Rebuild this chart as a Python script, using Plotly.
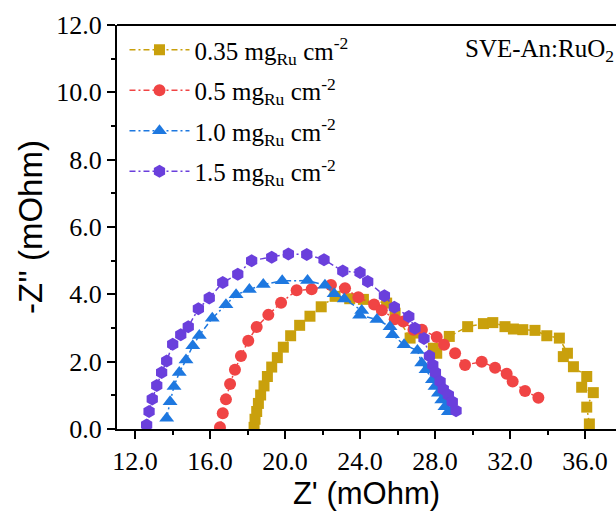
import plotly.graph_objects as go

# Nyquist data, Z' (mOhm) vs -Z'' (mOhm), for each Ru loading
z_re_035 = [18.35, 18.40, 18.49, 18.58, 18.70, 18.88, 19.06, 19.29, 19.59, 19.91,
            20.30, 20.78, 21.33, 21.93, 22.67, 23.45, 24.18, 25.42, 25.87, 26.67,
            27.20, 27.91, 28.09, 28.76, 29.74, 30.58, 31.08, 31.73, 32.18, 32.68,
            33.33, 33.96, 34.63, 35.06, 34.84, 35.38, 36.09, 35.82, 36.44, 36.09, 36.23]
z_im_035 = [0.05, 0.29, 0.52, 0.76, 1.01, 1.28, 1.56, 1.84, 2.12, 2.43,
            2.77, 3.08, 3.35, 3.63, 3.94, 3.87, 3.85, 3.74, 3.44, 2.70,
            2.85, 2.40, 2.25, 2.75, 3.04, 3.13, 3.16, 3.04, 2.97, 2.95,
            2.93, 2.77, 2.70, 2.25, 2.15, 1.85, 1.56, 1.24, 1.08, 0.65, 0.15]

z_re_05 = [16.53, 16.68, 16.85, 17.07, 17.33, 17.65, 18.04, 18.49, 19.11, 19.79,
           20.62, 21.42, 22.45, 23.20, 23.91, 24.75, 25.16, 25.85, 26.30, 26.85,
           27.30, 28.09, 28.48, 29.07, 29.60, 30.49, 31.20, 31.82, 32.14, 32.80, 33.51]
z_im_05 = [0.05, 0.47, 0.88, 1.34, 1.76, 2.17, 2.62, 3.03, 3.39, 3.75,
           4.12, 4.15, 4.28, 4.18, 3.91, 3.70, 3.53, 3.26, 3.19, 2.95,
           2.95, 2.73, 2.50, 2.25, 1.90, 2.00, 1.82, 1.64, 1.41, 1.13, 0.93]

z_re_10 = [13.69, 13.87, 14.08, 14.36, 14.72, 15.08, 15.43, 16.12, 16.85, 17.39,
           18.10, 18.84, 19.85, 21.20, 22.13, 22.62, 23.16, 24.09, 23.98, 24.90,
           25.60, 25.73, 26.35, 27.06, 27.29, 27.52, 27.86, 28.00, 28.18, 28.36,
           28.53, 28.71, 28.95]
z_im_10 = [0.32, 0.81, 1.26, 1.68, 2.05, 2.47, 2.78, 3.29, 3.69, 3.99,
           4.14, 4.29, 4.40, 4.41, 4.27, 4.02, 3.86, 3.52, 3.38, 3.25,
           3.04, 2.80, 2.50, 2.33, 1.96, 1.76, 1.46, 1.26, 1.06, 0.86,
           0.66, 0.51, 0.58]

z_re_15 = [12.62, 12.75, 12.92, 13.16, 13.42, 13.69, 14.01, 14.44, 14.84, 15.38,
           15.96, 16.68, 17.48, 18.22, 19.29, 20.18, 21.16, 22.08, 23.08, 24.00,
           24.41, 25.30, 25.83, 26.60, 26.93, 27.41, 27.70, 27.88, 28.02, 28.27,
           28.44, 28.71, 28.92, 29.12]
z_im_15 = [0.12, 0.52, 0.89, 1.29, 1.68, 2.02, 2.52, 2.80, 3.04, 3.57,
           3.89, 4.35, 4.60, 5.00, 5.10, 5.20, 5.18, 5.03, 4.69, 4.65,
           4.38, 3.96, 3.62, 3.34, 2.99, 2.69, 2.17, 1.90, 1.68, 1.41,
           1.18, 1.01, 0.81, 0.54]

labels = ["0.35 mg<sub>Ru</sub> cm<sup>-2</sup>",
          "0.5 mg<sub>Ru</sub> cm<sup>-2</sup>",
          "1.0 mg<sub>Ru</sub> cm<sup>-2</sup>",
          "1.5 mg<sub>Ru</sub> cm<sup>-2</sup>"]

x_ticks = [12, 16, 20, 24, 28, 32, 36]
y_ticks = [0, 2, 4, 6, 8, 10, 12]

series = [
    (z_re_035, z_im_035, labels[0], "#C9A00C", "square", 11),
    (z_re_05, z_im_05, labels[1], "#F04444", "circle", 12),
    (z_re_10, z_im_10, labels[2], "#1E78E0", "triangle-up", 13),
    (z_re_15, z_im_15, labels[3], "#6A3FDC", "hexagon", 13),
]

SERIF = "Liberation Serif, Times New Roman, serif"
SANS = "Liberation Sans, Arial, sans-serif"

fig = go.Figure()
for i, (xs, ys, name, color, symbol, size) in enumerate(series):
    fig.add_trace(go.Scatter(
        x=xs, y=ys, name=name, mode="lines+markers", legendgroup=f"g{i}",
        line=dict(color=color, width=1.5, dash="6px,3px,2px,3px"),
        marker=dict(symbol=symbol, size=size, color=color,
                    line=dict(width=0)),
    ))

axis_common = dict(
    showline=True, linecolor="black", linewidth=2,
    ticks="outside", ticklen=8, tickwidth=2, tickcolor="black",
    showgrid=False, zeroline=False,
    tickfont=dict(family=SERIF, size=26, color="black"),
    tickformat=".1f",
)

fig.update_xaxes(
    range=[11.04, 37.65], tickvals=x_ticks,
    minor=dict(ticks="outside", ticklen=4, tickwidth=2, tickcolor="black",
               tickvals=[14, 18, 22, 26, 30, 34]),
    title=dict(text="Z' (mOhm)", font=dict(family=SANS, size=31, color="black"),
               standoff=6),
    **axis_common,
)
fig.update_yaxes(
    range=[0, 12], tickvals=y_ticks,
    minor=dict(ticks="outside", ticklen=4, tickwidth=2, tickcolor="black",
               tickvals=[1, 3, 5, 7, 9, 11]),
    title=dict(text="-Z'' (mOhm)", font=dict(family=SANS, size=33, color="black"),
               standoff=4),
    **axis_common,
)

# top frame line
fig.add_shape(type="line", xref="paper", yref="paper", x0=0, x1=1, y0=1, y1=1,
              line=dict(color="black", width=2))

fig.add_annotation(
    text="SVE-An:RuO<sub>2</sub>", xref="paper", yref="paper",
    x=1.0, y=0.98, xanchor="right", yanchor="top", showarrow=False,
    font=dict(family=SERIF, size=25, color="black"),
)

fig.update_layout(
    width=616, height=511,
    margin=dict(l=117, r=0, t=25, b=82),
    plot_bgcolor="white", paper_bgcolor="white",
    showlegend=True,
    legend=dict(x=0.015, y=0.995, xanchor="left", yanchor="top",
                bgcolor="rgba(0,0,0,0)",
                font=dict(family=SERIF, size=25, color="black"),
                itemwidth=60, tracegroupgap=5),
)

fig.write_html("out.html")
